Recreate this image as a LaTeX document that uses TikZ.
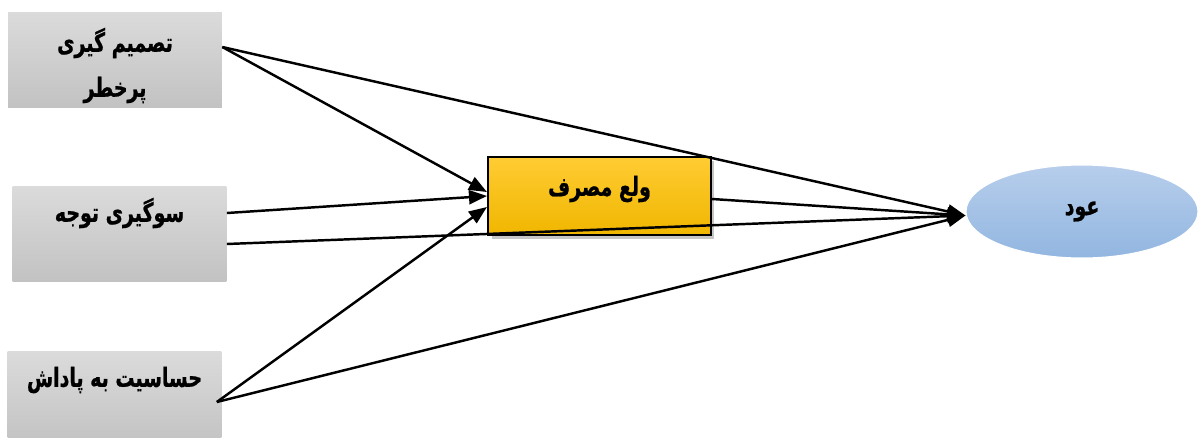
\documentclass[tikz,border=0pt]{standalone}
\usepackage{fontspec}
\newfontfamily\arabicfont[Script=Arabic,FakeStretch=0.72,BoldFeatures={FakeBold=0.8}]{DejaVu Sans}
\TeXXeTstate=1
\usetikzlibrary{arrows.meta,shadows,shapes.geometric}
\definecolor{greytop}{RGB}{219,219,219}
\definecolor{greybot}{RGB}{194,194,194}
\definecolor{goldtop}{RGB}{255,204,51}
\definecolor{goldbot}{RGB}{240,182,0}
\definecolor{bluetop}{RGB}{183,206,236}
\definecolor{bluebot}{RGB}{146,182,224}

\begin{document}
\begin{tikzpicture}[x=0.02cm, y=-0.02cm,
    greybox/.style={rectangle, minimum width=4.28cm, minimum height=1.92cm, top color=greytop, bottom color=greybot},
    boxtext/.style={font=\arabicfont\bfseries\fontsize{15pt}{25.6pt}\selectfont, align=center},
    conn/.style={line width=1.4pt, -{Triangle[length=0.36cm,width=0.28cm]}}]
    \useasboundingbox (0,0) rectangle (1198,437);

    % Predictors
    \node[greybox] (risk) at (115,60) {};
    \node[greybox] (attn) at (119.5,234) {};
    \node[greybox] (reward) at (114.5,399) {};
    \node[boxtext] (risk-t) at (115,65.5) {\beginR تصمیم گیری\endR\\\beginR پرخطر\endR};
    \node[boxtext] (attn-t) at (119.5,213) {\beginR سوگیری توجه\endR};
    \node[boxtext] (reward-t) at (114.5,380) {\beginR حساسیت به پاداش\endR};

    % Mediator and outcome
    \node[rectangle, draw=black, line width=1.2pt, minimum width=4.46cm, minimum height=1.56cm,
          top color=goldtop, bottom color=goldbot,
          drop shadow={opacity=0.45, shadow xshift=2pt, shadow yshift=-2pt}] (crave) at (599.5,196) {};
    \node[boxtext] (crave-t) at (599.5,189) {\beginR ولع مصرف\endR};
    \node[ellipse, draw=white, line width=0.6pt, minimum width=4.64cm, minimum height=1.86cm,
          top color=bluetop, bottom color=bluebot, boxtext] (relapse) at (1082,211.5) {\beginR عود\endR};

    % Paths
    \draw[conn] ([yshift=0.26cm]risk.east) -- ([yshift=0.08cm]crave.west);
    \draw[conn] ([yshift=0.26cm]risk.east) -- ([yshift=-0.08cm]relapse.west);
    \draw[conn] ([yshift=0.42cm]attn.east) -- (crave.west);
    \draw[conn] ([yshift=-0.2cm]attn.east) -- ([yshift=-0.08cm]relapse.west);
    \draw[conn] ([xshift=-0.1cm,yshift=-0.06cm]reward.east) -- ([yshift=-0.22cm]crave.west);
    \draw[conn] ([xshift=-0.1cm,yshift=-0.06cm]reward.east) -- ([yshift=-0.08cm]relapse.west);
    \draw[conn] ([yshift=-0.06cm]crave.east) -- ([yshift=-0.08cm]relapse.west);
\end{tikzpicture}
\end{document}
